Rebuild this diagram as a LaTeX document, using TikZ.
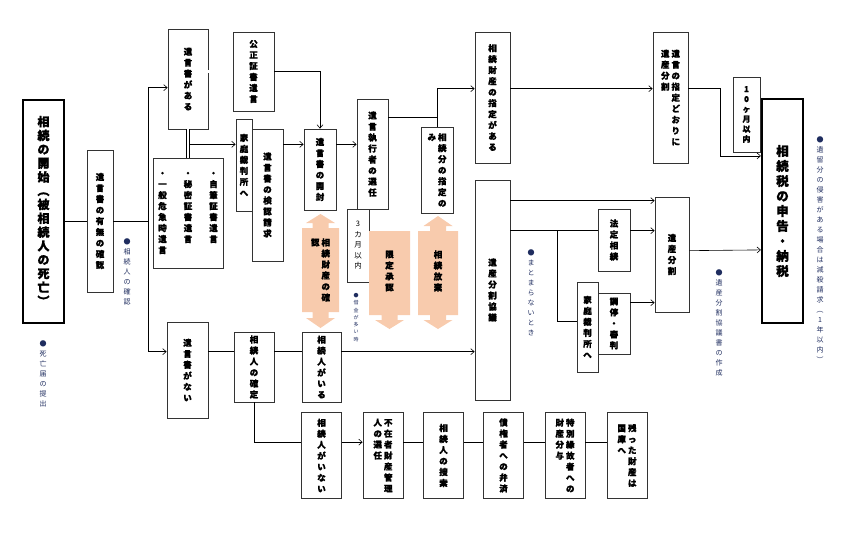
\documentclass[tikz,border=0pt]{standalone}
\usepackage{fontspec}
\setmainfont{Noto Sans CJK JP}[BoldFeatures={FakeBold=1.3}]
\usepackage{graphicx}
\usetikzlibrary{arrows.meta}
\definecolor{peach}{RGB}{248,203,173}
\definecolor{notecol}{RGB}{31,45,95}

% vertical text: one glyph per row, columns from right to left
\newcommand\lp{\rotatebox[origin=c]{-90}{（}}
\newcommand\rp{\rotatebox[origin=c]{-90}{）}}
\ExplSyntaxOn
\NewDocumentCommand \vt { m }
  {
    \vtop
      {
        \lineskiplimit = -\maxdimen
        \tl_map_inline:nn {#1} { \hbox_to_wd:nn { 1em } { \hss ##1 \hss } }
      }
  }
\NewDocumentCommand \vtc { O{2pt} m }
  {
    \hbox:n
      {
        \seq_set_from_clist:Nn \l_tmpa_seq {#2}
        \seq_reverse:N \l_tmpa_seq
        \bool_set_false:N \l_tmpa_bool
        \seq_map_inline:Nn \l_tmpa_seq
          {
            \bool_if:NT \l_tmpa_bool { \skip_horizontal:n {#1} }
            \bool_set_true:N \l_tmpa_bool
            \vt {##1}
          }
      }
  }
\ExplSyntaxOff

\begin{document}
\begin{tikzpicture}[x=1pt,y=-1pt,>={Straight Barb[length=3.5pt,width=6pt]},
    box/.style={draw=black!80,line width=0.7pt,inner sep=0pt,fill=white,
      font=\fontsize{8.5}{11}\selectfont\bfseries},
    thickbox/.style={box,draw=black,line width=2.2pt,
      font=\fontsize{12}{13.8}\selectfont\bfseries},
    thinbox/.style={box,font=\fontsize{7.5}{10.5}\selectfont},
    note/.style={inner sep=0pt,text=notecol,font=\fontsize{7}{10}\selectfont},
    peachtext/.style={inner sep=0pt,font=\fontsize{8.5}{11}\selectfont\bfseries},
    link/.style={line width=0.6pt},
    twin/.style={double,double distance=2.4pt,line width=0.5pt}]
  \useasboundingbox (0,0) rectangle (850,538);

  % left part
  \node[thickbox,minimum width=41,minimum height=223] (start) at (43.5,211.5) {\vt{相続の開始\lp 被相続人の死亡\rp}};
  \node[box,minimum width=26,minimum height=142] (yumu) at (100,221) {\vt{遺言書の有無の確認}};
  \node[box,minimum width=40,minimum height=100] (aru) at (188,79) {\vt{遺言書がある}};
  \node[box,minimum width=41,minimum height=79] (kosei) at (253.5,71.5) {\vt{公正証書遺言}};
  \node[box,minimum width=70,minimum height=110] (jihitsu) at (188,213) {\vtc[17pt]{・自筆証書遺言,・秘密証書遺言,・一般危急時遺言}};
  \node[box,minimum width=31,minimum height=132] (kennin) at (267.5,195) {\vt{遺言書の検認請求}};
  \node[box,minimum width=16,minimum height=92] (katei1) at (244,165) {\vt{家庭裁判所へ}};
  \node[box,minimum width=32,minimum height=81] (kaifu) at (320,169.5) {\vt{遺言書の開封}};
  \node[box,minimum width=31,minimum height=110] (shikko) at (372.5,154) {\vt{遺言執行者の選任}};
  \node[thinbox,minimum width=22,minimum height=73] (kigen) at (358,245.5) {\vt{3カ月以内}};
  \node[box,minimum width=32,minimum height=86] (bunshitei) at (437,170) {\vtc{相続分の指定の,み}};

  % right part
  \node[box,minimum width=35,minimum height=131] (zaisan) at (492.5,97.5) {\vt{相続財産の指定がある}};
  \node[box,minimum width=35,minimum height=131] (shitei) at (670.5,97.5) {\vtc{遺言の指定どおりに,遺産分割}};
  \node[box,minimum width=27,minimum height=75,font=\fontsize{8}{10}\selectfont\bfseries] (jukka) at (746.5,114.5) {\vt{10ヶ月以内}};
  \node[thickbox,minimum width=41,minimum height=224,font=\fontsize{12.5}{15}\selectfont\bfseries] (zei) at (782.5,211) {\vt{相続税の申告・納税}};
  \node[box,minimum width=35,minimum height=220] (kyogi) at (492.5,290) {\vt{遺産分割協議}};
  \node[box,minimum width=32,minimum height=62] (hotei) at (614,240) {\vt{法定相続}};
  \node[box,minimum width=32,minimum height=61] (chotei) at (614,323.5) {\vt{調停・審判}};
  \node[box,minimum width=21,minimum height=90] (katei2) at (587.5,327) {\vt{家庭裁判所へ}};
  \node[box,minimum width=34,minimum height=115] (bunkatsu) at (672,254.5) {\vt{遺産分割}};

  % no will
  \node[box,minimum width=41,minimum height=96] (nai) at (187.5,370) {\vt{遺言書がない}};
  \node[box,minimum width=40,minimum height=70] (kakutei) at (254,367) {\vt{相続人の確定}};
  \node[box,minimum width=39,minimum height=70] (iru) at (321.5,367) {\vt{相続人がいる}};
  \foreach \name/\cx/\txt in {inai/321.5/{相続人がいない},fuzai/383/{不在者財産管理,人の選任},
      sosaku/443.5/{相続人の捜索},bensai/503.5/{債権者への弁済},
      enko/565/{特別縁故者への,財産分与},kokko/627/{残った財産は,国庫へ}}
    \node[box,minimum width=40,minimum height=86] (\name) at (\cx,455.5) {\expandafter\vtc\expandafter{\txt}};

  % orange bars
  \fill[peach] (302,228) -- (312.5,228) -- (312.5,223) -- (306,223) -- (320.5,214) -- (335,223) -- (328.5,223)
    -- (328.5,228) -- (339,228) -- (339,312) -- (328.5,312) -- (328.5,318) -- (335,318) -- (320.5,328)
    -- (306,318) -- (312.5,318) -- (312.5,312) -- (302,312) -- cycle;
  \fill[peach] (369,231) -- (410,231) -- (410,315) -- (397.5,315) -- (397.5,320) -- (404,320) -- (389.5,329)
    -- (375,320) -- (381.5,320) -- (381.5,315) -- (369,315) -- cycle;
  \fill[peach] (418,231) -- (430,231) -- (430,226) -- (423.5,226) -- (438,216) -- (452.5,226) -- (446,226)
    -- (446,231) -- (458,231) -- (458,315) -- (446,315) -- (446,320) -- (452.5,320) -- (438,329)
    -- (423.5,320) -- (430,320) -- (430,315) -- (418,315) -- cycle;
  \node[peachtext] (kakunin) at (320.5,270) {\vtc{相続財産の確,認}};
  \node[peachtext] (gentei) at (389.5,271) {\vt{限定承認}};
  \node[peachtext] (hoki) at (438,271) {\vt{相続放棄}};

  % notes
  \node[note] (n1) at (127,271.5) {\vt{●相続人の確認}};
  \node[note] (n2) at (43,374) {\vt{●死亡届の提出}};
  \node[note,font=\fontsize{5}{7.3}\selectfont] (n3) at (356,317.5) {\vt{●借金が多い時}};
  \node[note] (n4) at (531,293) {\vt{●まとまらないとき}};
  \node[note] (n5) at (719,323) {\vt{●遺産分割協議書の作成}};
  \node[note] (n6) at (820,250) {\vt{●遺留分の侵害がある場合は減殺請求\lp 1年以内\rp}};

  % connectors
  \draw[link] (start.east |- yumu.west) -- (yumu.west);
  \draw[link,->] (yumu.east) -- ++(35,0) |- ([yshift=-59pt]aru.north west);
  \draw[link,->] (yumu.east) -- ++(35,0) |- ([yshift=-30pt]nai.north west);
  \coordinate (m1) at ([yshift=-15pt]aru.south);
  \draw[link,->] (m1) -- (m1 -| katei1.west);
  \draw[twin] (aru.east |- kosei.west) -- (kosei.west);
  \draw[twin] (aru.south) -- (aru.south |- jihitsu.north);
  \draw[link,->] (kosei.east) -| (kaifu.north);
  \draw[link,->] (kennin.east |- m1) -- (kaifu.west |- m1);
  \draw[link,->] (kaifu.east |- m1) -- (shikko.west |- m1);
  \coordinate (m2) at ([yshift=-19pt]shikko.north east);
  \draw[link] (m2) -| (bunshitei.north);
  \draw[link,->] (m2 -| bunshitei.north) |- ([yshift=-57pt]zaisan.north west);
  \draw[link,->] ([yshift=-57pt]zaisan.north east) -- ([yshift=-57pt]shitei.north west);
  \draw[link,->] ([yshift=-57pt]shitei.north east) -- ++(32,0) |- ([yshift=-58pt]zei.north west);
  \draw[link,->] ([yshift=-21pt]kyogi.north east) -- ([yshift=-4pt]bunkatsu.north west);
  \draw[link] ([yshift=-51pt]kyogi.north east) -- ([yshift=-22pt]hotei.north west);
  \draw[link] ([yshift=-51pt]kyogi.north east) ++(47,0) |- ([yshift=-40pt]katei2.north west);
  \draw[link,->] ([yshift=-22pt]hotei.north east) -- ([yshift=-34pt]bunkatsu.north west);
  \draw[link,->] ([yshift=-10pt]chotei.north east) -- ([yshift=-106pt]bunkatsu.north west);
  \draw[link,->] ([yshift=-54pt]bunkatsu.north east) -- ([yshift=-152pt]zei.north west);
  \draw[link] ([yshift=-30pt]nai.north east) -- ([yshift=-20pt]kakutei.north west);
  \draw[link] ([yshift=-20pt]kakutei.north east) -- ([yshift=-20pt]iru.north west);
  \draw[link,->] ([yshift=-20pt]iru.north east) -- ([yshift=-172pt]kyogi.north west);
  \draw[link] (kakutei.south) |- ([yshift=-30pt]inai.north west);
  \draw[link,->] ([yshift=-30pt]inai.north east) -- ([yshift=-30pt]fuzai.north west);
  \foreach \a/\b in {fuzai/sosaku,sosaku/bensai,bensai/enko,enko/kokko}
    \draw[link] ([yshift=-30pt]\a.north east) -- ([yshift=-30pt]\b.north west);
\end{tikzpicture}
\end{document}
